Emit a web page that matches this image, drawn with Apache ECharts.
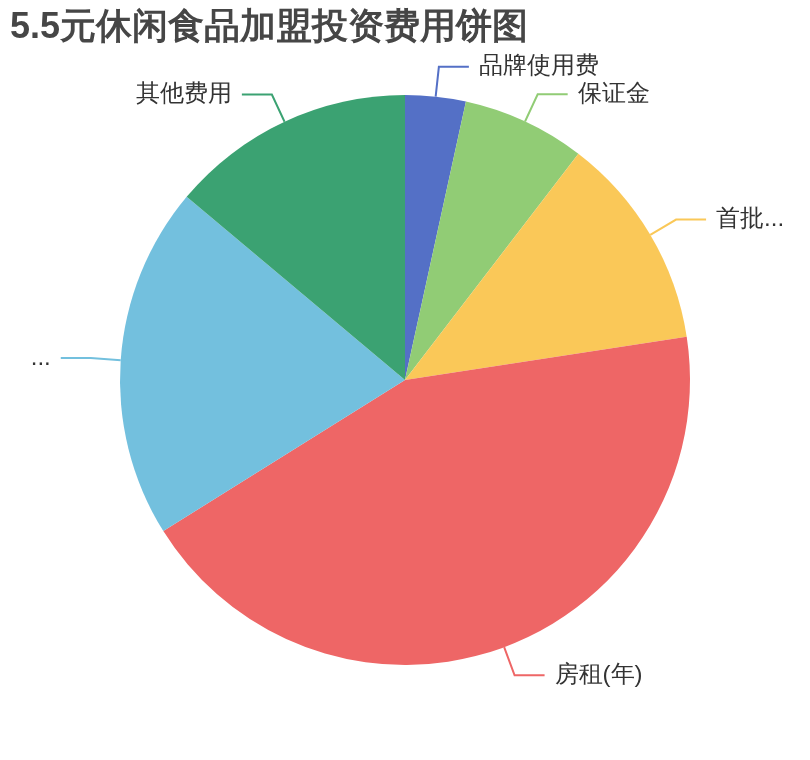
<!DOCTYPE html>
<html>
<head>
<meta charset="utf-8">
<script src="https://cdn.jsdelivr.net/npm/echarts@6/dist/echarts.min.js"></script>
<style>
  html, body { margin: 0; padding: 0; background: #fff; }
  #main { width: 810px; height: 760px; }
</style>
</head>
<body>
<div id="main"></div>
<script>
const titleText = '5.5元休闲食品加盟投资费用饼图';
const categories = ['品牌使用费', '保证金', '首批进货费', '房租(年)', '装修费用', '其他费用'];
const values = [3.43, 6.98, 12.17, 43.53, 20.0, 13.89];

const chart = echarts.init(document.getElementById('main'));
chart.setOption({
  animation: false,
  color: ['#5470c6', '#91cc75', '#fac858', '#ee6666', '#73c0de', '#3ba272'],
  title: {
    text: titleText,
    left: 0,
    top: 0,
    padding: 10,
    textStyle: { fontSize: 36, fontWeight: 'bold', color: '#464646' }
  },
  series: [{
    type: 'pie',
    radius: [0, '75%'],
    center: ['50%', '50%'],
    label: {
      fontSize: 24,
      color: '#333',
      bleedMargin: 20,
      distanceToLabelLine: 10
    },
    labelLine: {
      length: 30,
      length2: 30,
      lineStyle: { width: 2 }
    },
    data: categories.map((n, i) => ({ name: n, value: values[i] }))
  }]
});
</script>
</body>
</html>
